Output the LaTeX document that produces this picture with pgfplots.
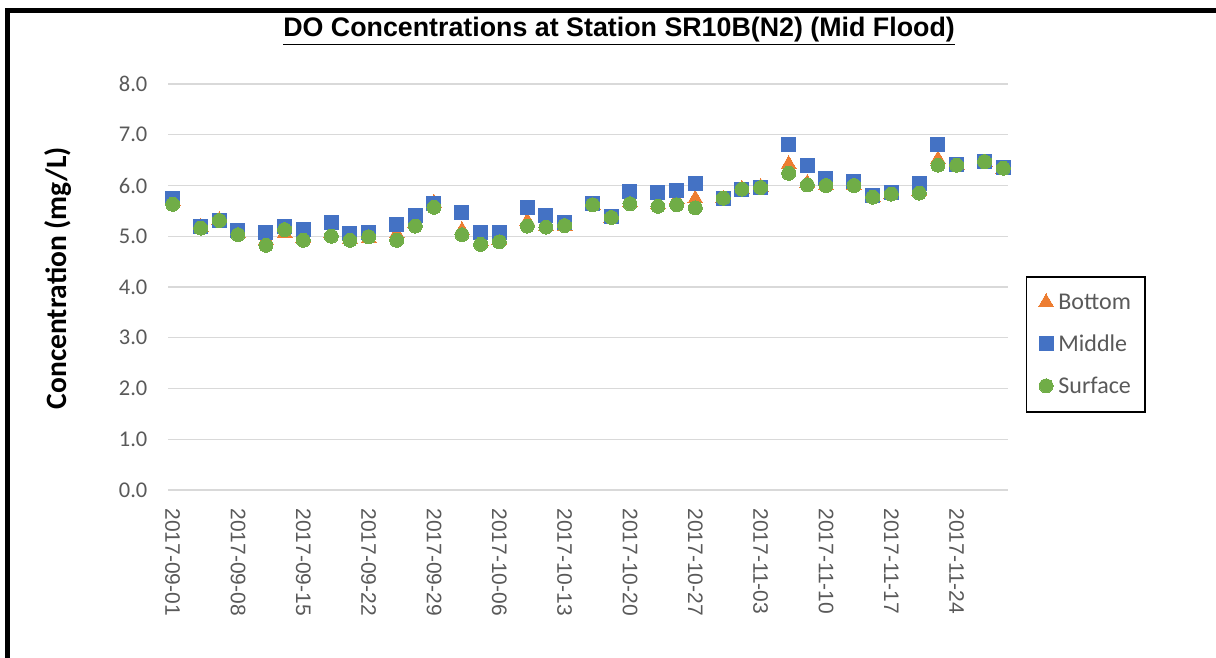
\documentclass[border=0pt]{standalone}
\usepackage{fontspec}
\usepackage{pgfplots}
\pgfplotsset{compat=1.18}
\setmainfont{Carlito}
\newfontfamily\arialfont{Liberation Sans}
\definecolor{cOrange}{HTML}{ED7D31}
\definecolor{cBlue}{HTML}{4472C4}
\definecolor{cGreen}{HTML}{70AD47}
\definecolor{gridgray}{HTML}{D9D9D9}
\definecolor{labelgray}{HTML}{595959}
\pgfplotstableread{
day bottom middle surface
0 5.68 5.74 5.63
3 5.18 5.19 5.16
5 5.32 5.31 5.31
7 5.06 5.11 5.03
10 4.93 5.08 4.82
12 5.06 5.20 5.13
14 4.96 5.14 4.92
17 5.05 5.28 5.00
19 4.95 5.05 4.92
21 4.96 5.07 4.99
24 5.05 5.24 4.92
26 5.25 5.41 5.20
28 5.66 5.64 5.57
31 5.12 5.46 5.03
33 4.90 5.07 4.84
35 4.92 5.08 4.89
38 5.30 5.56 5.20
40 5.20 5.41 5.18
42 5.20 5.28 5.21
45 5.62 5.64 5.62
47 5.36 5.39 5.37
49 5.67 5.88 5.64
52 5.63 5.87 5.59
54 5.72 5.91 5.62
56 5.74 6.03 5.56
59 5.74 5.75 5.75
61 5.93 5.93 5.93
63 5.97 5.96 5.96
66 6.42 6.81 6.24
68 6.05 6.40 6.01
70 6.01 6.14 6.00
73 6.00 6.08 6.00
75 5.76 5.80 5.77
77 5.82 5.87 5.83
80 5.88 6.03 5.85
82 6.52 6.81 6.40
84 6.39 6.42 6.40
87 6.45 6.48 6.47
89 6.33 6.35 6.34
}\datatable
\begin{document}
\begin{tikzpicture}[x=1pt,y=1pt]
\useasboundingbox (0,0) rectangle (1216,658);
\fill[black] (5,0) rectangle (10,650);
\fill[black] (5,645) rectangle (1216,650);
\begin{axis}[
  at={(168pt,168pt)}, anchor=south west,
  width=840pt, height=406pt, scale only axis,
  xmin=-0.5, xmax=89.5, ymin=0, ymax=8,
  axis lines=left, axis line style={draw=none}, tick style={draw=none},
  xtick={0,7,...,84},
  xticklabels={2017-09-01,2017-09-08,2017-09-15,2017-09-22,2017-09-29,2017-10-06,2017-10-13,2017-10-20,2017-10-27,2017-11-03,2017-11-10,2017-11-17,2017-11-24},
  xticklabel style={rotate=-90, anchor=west, inner xsep=16pt, font=\arialfont\fontsize{21}{21}\selectfont, text=labelgray},
  ytick={0,1,...,8},
  yticklabel style={xshift=-15pt, font=\fontsize{22.5}{22.5}\selectfont, text=labelgray,
    /pgf/number format/.cd, fixed, fixed zerofill, precision=1, assume math mode=true},
  ymajorgrids, major grid style={color=gridgray, line width=1.4pt},
  ylabel={\bfseries Concentration (mg/L)},
  ylabel style={at={(axis description cs:-0.131,0.522)}, anchor=center, font=\fontsize{29.5}{29.5}\selectfont, text=black},
  title={\arialfont\bfseries\underline{DO Concentrations at Station SR10B(N2) (Mid Flood)}},
  title style={at={(axis description cs:0.537,1.1158)}, anchor=base, yshift=-6pt, font=\fontsize{26.8}{26.8}\selectfont},
  legend style={at={(axis description cs:1.0214,0.527)}, anchor=north west, draw=black, line width=1.5pt,
    font=\fontsize{24}{24}\selectfont, text=labelgray, row sep=20pt, inner xsep=12pt, inner ysep=15pt},
  legend cell align=left,
]
\addplot[only marks, mark=triangle*, mark size=8.5, mark options={fill=cOrange, draw=cOrange, line width=0pt}] table[x=day, y=bottom] {\datatable};
\addlegendentry{\hspace{3pt}Bottom}
\addplot[only marks, mark=square*, mark size=7, mark options={fill=cBlue, draw=cBlue, line width=0pt}] table[x=day, y=middle] {\datatable};
\addlegendentry{\hspace{3pt}Middle}
\addplot[only marks, mark=*, mark size=7, mark options={fill=cGreen, draw=cGreen, line width=0pt}] table[x=day, y=surface] {\datatable};
\addlegendentry{\hspace{3pt}Surface}
\end{axis}
\end{tikzpicture}
\end{document}
